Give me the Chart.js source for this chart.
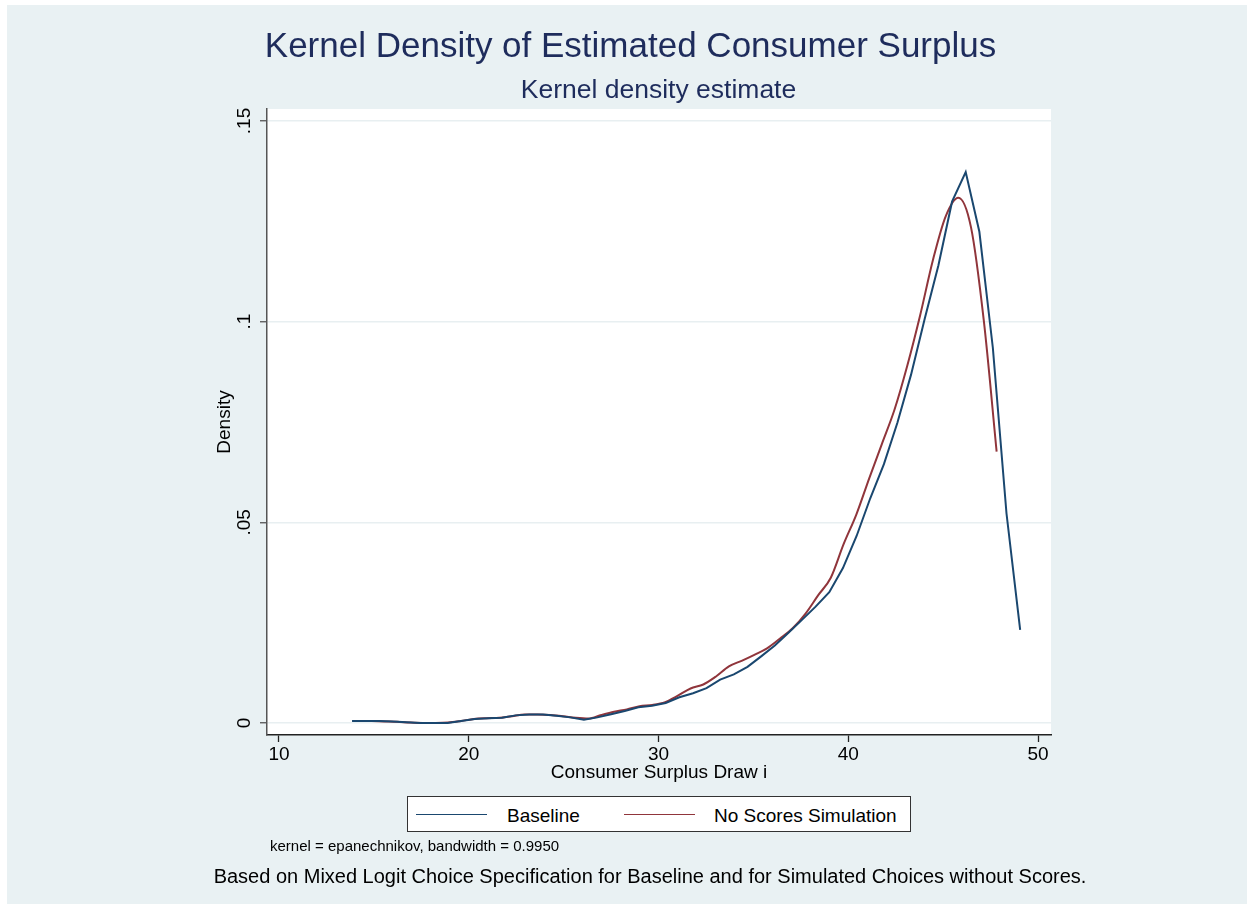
<!DOCTYPE html>
<html>
<head>
<meta charset="utf-8">
<title>Kernel Density of Estimated Consumer Surplus</title>
<script src="https://cdn.jsdelivr.net/npm/chart.js@4.4.1/dist/chart.umd.min.js"></script>
<style>
  html, body { margin: 0; padding: 0; background: #ffffff; }
  #frame { position: absolute; left: 7px; top: 5px; width: 1240px; height: 899px; background: #E9F1F3; }
  #plot { position: absolute; left: 0; top: 0; width: 1253px; height: 909px; }
  .txt { position: absolute; font-family: "Liberation Sans", Arial, sans-serif; white-space: nowrap; }
  #title { left: 630.5px; top: 27.4px; font-size: 35px; line-height: 35px; color: #1E2C5C; transform: translateX(-50%); }
  #subtitle { left: 658.5px; top: 76px; font-size: 26.5px; line-height: 26.5px; color: #1E2C5C; transform: translateX(-50%); }
  #legend { position: absolute; left: 407px; top: 796px; width: 502px; height: 34px; background: #fff; border: 1.5px solid #333; }
  #legend .sample { position: absolute; height: 0; width: 71px; border-top: 1.8px solid; }
  #legend .label { font-size: 19px; line-height: 19px; color: #000; }
  #note { left: 270px; top: 838.3px; font-size: 15px; line-height: 15px; color: #000; }
  #caption { left: 650px; top: 866px; font-size: 20px; line-height: 20px; color: #000; transform: translateX(-50%); }
</style>
</head>
<body>
<div id="frame"></div>
<canvas id="plot" width="1253" height="909"></canvas>
<div class="txt" id="title">Kernel Density of Estimated Consumer Surplus</div>
<div class="txt" id="subtitle">Kernel density estimate</div>
<div id="legend"></div>
<div class="txt" id="note">kernel = epanechnikov, bandwidth = 0.9950</div>
<div class="txt" id="caption">Based on Mixed Logit Choice Specification for Baseline and for Simulated Choices without Scores.</div>
<script>
// Evaluation grid and density estimates, Baseline
const baselineX = [13.85, 14.57, 15.29, 16.01, 16.72, 17.44, 18.16, 18.88, 19.60, 20.32,
                   21.04, 21.75, 22.47, 23.19, 23.91, 24.63, 25.35, 26.07, 26.78, 27.50,
                   28.22, 28.94, 29.66, 30.38, 31.10, 31.82, 32.53, 33.25, 33.97, 34.69,
                   35.41, 36.13, 36.85, 37.56, 38.28, 39.00, 39.72, 40.44, 41.16, 41.88,
                   42.59, 43.31, 44.03, 44.75, 45.47, 46.19, 46.91, 47.62, 48.34, 49.06];
const baselineDensity = [0.0005, 0.0005, 0.0005, 0.0004, 0.0002, 0.0000, 0.0000, 0.0000, 0.0005, 0.0010,
                         0.0012, 0.0013, 0.0019, 0.0021, 0.0021, 0.0018, 0.0014, 0.0008, 0.0014, 0.0022,
                         0.0030, 0.0039, 0.0043, 0.0050, 0.0064, 0.0074, 0.0087, 0.0108, 0.0121, 0.0140,
                         0.0166, 0.0193, 0.0225, 0.0257, 0.0290, 0.0326, 0.0386, 0.0466, 0.0560, 0.0645,
                         0.0748, 0.0868, 0.1007, 0.1140, 0.1299, 0.1373, 0.1224, 0.0935, 0.0522, 0.0232];

// Evaluation grid and density estimates, No Scores Simulation
const noScoresX = [14.89, 15.56, 16.23, 16.91, 17.58, 18.25, 18.92, 19.59, 20.27, 20.94,
                   21.61, 22.28, 22.95, 23.63, 24.30, 24.97, 25.64, 26.31, 26.99, 27.66,
                   28.33, 29.00, 29.67, 30.35, 31.02, 31.69, 32.36, 33.03, 33.71, 34.38,
                   35.05, 35.72, 36.39, 37.07, 37.74, 38.41, 39.08, 39.75, 40.43, 41.10,
                   41.77, 42.44, 43.11, 43.79, 44.46, 45.13, 45.80, 46.47, 47.15, 47.82];
const noScoresDensity = [0.0005, 0.0004, 0.0003, 0.0001, 0.0000, 0.0000, 0.0001, 0.0005, 0.0010, 0.0012,
                         0.0013, 0.0017, 0.0021, 0.0021, 0.0020, 0.0017, 0.0013, 0.0011, 0.0020, 0.0028,
                         0.0034, 0.0042, 0.0045, 0.0052, 0.0068, 0.0086, 0.0096, 0.0116, 0.0141, 0.0155,
                         0.0170, 0.0186, 0.0210, 0.0236, 0.0272, 0.0318, 0.0362, 0.0445, 0.0520, 0.0609,
                         0.0695, 0.0781, 0.0890, 0.1016, 0.1153, 0.1262, 0.1309, 0.1235, 0.1000, 0.0676];

const seriesNames = ['Baseline', 'No Scores Simulation'];
const seriesColors = ['#1A476F', '#90353B'];

const xTickValues = [10, 20, 30, 40, 50];
const yTickValues = [0, 0.05, 0.1, 0.15];
const yTickLabels = ['0', '.05', '.1', '.15'];

const FONT = "'Liberation Sans', Arial, sans-serif";

function toPoints(xs, ys) {
  return xs.map((x, i) => ({ x: x, y: ys[i] }));
}

// white plot region behind grid and lines
const plotBackground = {
  id: 'plotBackground',
  beforeDraw(chart) {
    const { ctx, chartArea: a } = chart;
    ctx.save();
    ctx.fillStyle = '#ffffff';
    ctx.fillRect(a.left, a.top, a.right - a.left, a.bottom - a.top);
    ctx.restore();
  }
};

const chart = new Chart(document.getElementById('plot'), {
  type: 'line',
  data: {
    datasets: [
      { label: seriesNames[0], data: toPoints(baselineX, baselineDensity), borderColor: seriesColors[0] },
      { label: seriesNames[1], data: toPoints(noScoresX, noScoresDensity), borderColor: seriesColors[1],
        cubicInterpolationMode: 'monotone' }
    ]
  },
  options: {
    responsive: false,
    animation: false,
    layout: { padding: { left: 213, right: 202, top: 109, bottom: 125 } },
    elements: {
      line: { borderWidth: 2, tension: 0, fill: false },
      point: { radius: 0, hoverRadius: 0 }
    },
    plugins: {
      legend: { display: false },
      title: { display: false },
      tooltip: { enabled: false }
    },
    scales: {
      x: {
        type: 'linear',
        min: 9.368,
        max: 50.685,
        afterBuildTicks(scale) { scale.ticks = xTickValues.map(v => ({ value: v })); },
        afterFit(scale) { scale.height = 49; },
        ticks: {
          color: '#000', padding: 1, maxRotation: 0,
          font: { family: FONT, size: 19 },
          callback: (v) => String(v)
        },
        grid: { drawOnChartArea: false, drawTicks: true, tickLength: 7, tickColor: '#222', tickWidth: 1.3 },
        border: { display: true, color: '#222', width: 1.5 },
        title: {
          display: true, text: 'Consumer Surplus Draw i', color: '#000',
          font: { family: FONT, size: 19 }, padding: 0
        }
      },
      y: {
        type: 'linear',
        min: -0.00299,
        max: 0.15299,
        afterBuildTicks(scale) { scale.ticks = yTickValues.map(v => ({ value: v })); },
        afterFit(scale) { scale.width = 54; },
        ticks: {
          color: '#000', padding: 2, minRotation: 90, maxRotation: 90, crossAlign: 'center',
          font: { family: FONT, size: 19 },
          callback: (v, i) => yTickLabels[i]
        },
        grid: { color: '#E8EFF1', lineWidth: 1.5, drawTicks: true, tickLength: 7, tickColor: '#555', tickWidth: 1.3 },
        border: { display: true, color: '#555', width: 1.5 },
        title: {
          display: true, text: 'Density', color: '#000',
          font: { family: FONT, size: 19 }, padding: 0
        }
      }
    }
  },
  plugins: [plotBackground]
});

// legend box built from the chart's datasets
(function buildLegend() {
  const box = document.getElementById('legend');
  const sampleLeft = [8, 216];
  const labelLeft = [99, 306];
  chart.data.datasets.forEach((ds, i) => {
    const s = document.createElement('div');
    s.className = 'sample';
    s.style.left = sampleLeft[i] + 'px';
    s.style.top = '17px';
    s.style.borderTopColor = ds.borderColor;
    box.appendChild(s);
    const t = document.createElement('div');
    t.className = 'txt label';
    t.style.left = labelLeft[i] + 'px';
    t.style.top = '8.5px';
    t.textContent = ds.label;
    box.appendChild(t);
  });
})();
</script>
</body>
</html>
